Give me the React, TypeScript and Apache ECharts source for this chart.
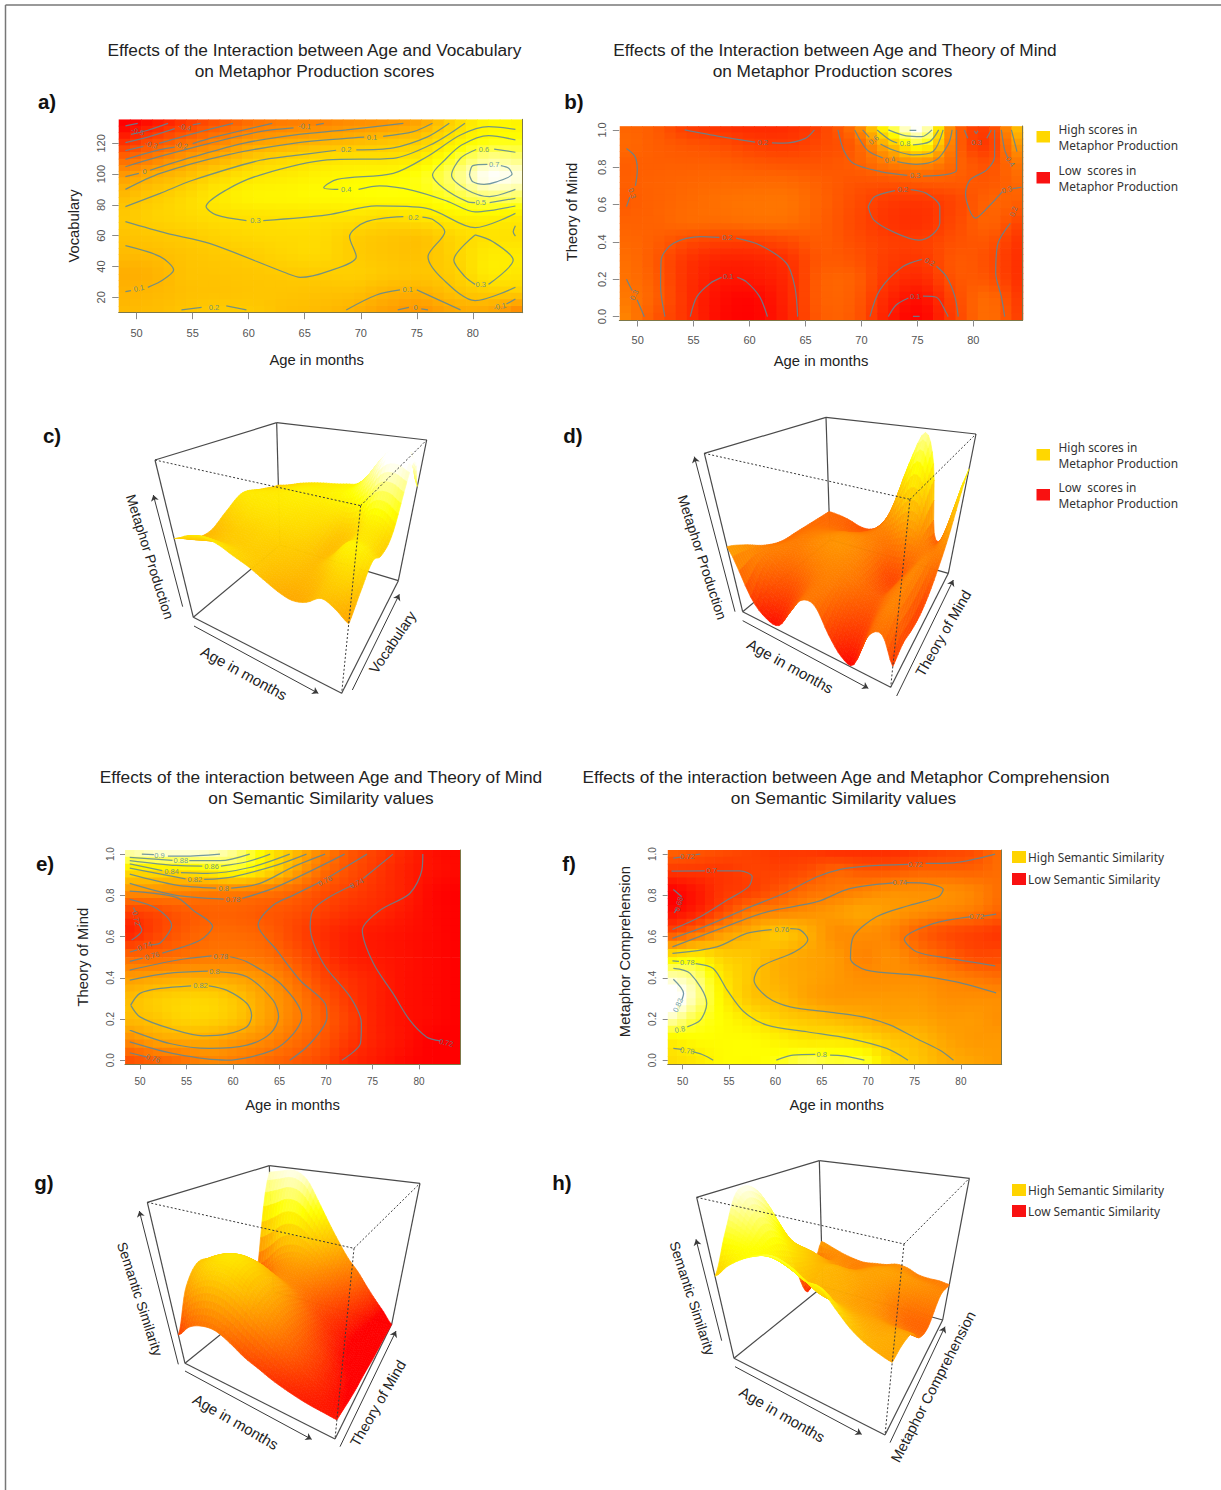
import React, { useEffect, useRef } from "react";
import * as echarts from "echarts";

type Pt = [number, number] | null;
type Contour = { level: string; pts: Pt[]; at?: [number, number]; rot?: number };

// ---------- shared axes ----------
const ageNodes = [48.4, 51.4, 54.4, 57.4, 60.4, 63.4, 66.4, 69.4, 72.4, 75.4, 78.4, 81.4, 84.4];
const unitNodes = [1.02, 0.92, 0.82, 0.72, 0.62, 0.5, 0.4, 0.3, 0.2, 0.1, -0.02];
const vocabNodes = [135.6, 123, 110, 98, 85, 73, 60, 48, 35, 23, 10];
const ageTicks = [50, 55, 60, 65, 70, 75, 80];
const vocabTicks = [20, 40, 60, 80, 100, 120];
const unitTicks = [0, 0.2, 0.4, 0.6, 0.8, 1];

// ---------- panel a: Age x Vocabulary -> Metaphor Production ----------
const heatA = [
  [-0.65, -0.55, -0.4, -0.28, -0.17, -0.12, -0.1, -0.05, -0.02, 0.05, 0.24, 0.38, 0.36],
  [-0.47, -0.33, -0.2, -0.1, 0, 0.04, 0.08, 0.11, 0.15, 0.2, 0.33, 0.41, 0.42],
  [-0.2, -0.1, 0.02, 0.1, 0.2, 0.25, 0.28, 0.3, 0.3, 0.34, 0.47, 0.6, 0.57],
  [0.02, 0.1, 0.17, 0.26, 0.32, 0.34, 0.37, 0.39, 0.4, 0.44, 0.57, 0.74, 0.7],
  [0.14, 0.2, 0.26, 0.33, 0.37, 0.38, 0.39, 0.4, 0.41, 0.41, 0.48, 0.56, 0.53],
  [0.19, 0.23, 0.26, 0.29, 0.3, 0.31, 0.31, 0.31, 0.29, 0.32, 0.36, 0.37, 0.34],
  [0.17, 0.19, 0.21, 0.24, 0.26, 0.27, 0.27, 0.22, 0.19, 0.18, 0.26, 0.3, 0.29],
  [0.14, 0.15, 0.18, 0.2, 0.22, 0.25, 0.26, 0.21, 0.18, 0.17, 0.24, 0.33, 0.33],
  [0.09, 0.11, 0.17, 0.18, 0.19, 0.2, 0.21, 0.22, 0.19, 0.18, 0.22, 0.33, 0.31],
  [0.11, 0.13, 0.16, 0.17, 0.18, 0.18, 0.17, 0.16, 0.11, 0.1, 0.17, 0.21, 0.21],
  [0.14, 0.15, 0.18, 0.21, 0.2, 0.16, 0.14, 0.1, 0.03, -0.01, 0.06, 0.06, -0.08],
];
const contoursA: Contour[] = [
  { level: "", pts: [[49, 131.3], [50.1, 133]] },
  { level: "-0.5", pts: [[49.5, 125.8], [51, 128.5], [52.8, 133]], at: [50.1, 127.6], rot: 15 },
  { level: "-0.4", pts: [[49, 120.4], [51, 124], [53.4, 129.5], null, [55, 132], [55.7, 133]], at: [54.3, 130.4], rot: 12 },
  { level: "-0.3", pts: [[49, 115.2], [50.6, 118], null, [52, 120], [55.7, 127.6], [58.6, 133]], at: [51.3, 119], rot: 15 },
  { level: "-0.2", pts: [[49, 109.6], [52, 115.7], [53.4, 117.5], null, [55, 119.8], [57.1, 124.3], [62.1, 133]], at: [54, 118.5], rot: 12 },
  { level: "-0.1", pts: [[49, 104.8], [52, 111.3], [56.5, 120], [61, 127.6], [64, 130], null, [66, 132], [66.7, 133]], at: [65, 131], rot: 5 },
  { level: "0", pts: [[49, 98.4], [50.2, 100.5], null, [51.2, 102.5], [55.1, 111.3], [59.5, 120], [64, 125.4], [68.7, 128.7], [73.8, 133]], at: [50.7, 101.6], rot: 0 },
  { level: "0.1", pts: [[49, 90.1], [52.1, 100.5], [58, 112.4], [64, 120], [68.7, 123.2], [70.3, 124], null, [72, 124.5], [74.7, 127.6], [76.4, 133]], at: [71, 124], rot: 0 },
  { level: "0.2", pts: [[49, 78.9], [52.1, 87.5], [55, 96], [61, 109], [64, 112], [67.8, 115.5], null, [69.6, 115.7], [72.9, 117], [75.9, 124], [77.9, 133]], at: [68.7, 115.7], rot: 0 },
  { level: "0.3", pts: [[79.3, 133], [76.5, 120], [72.9, 110.3], [67, 109.2], [61, 99.4], [58, 89.7], [56.2, 78.9], [57.1, 73.5], [59.8, 69.8], null, [61.3, 69.8], [67, 73.5], [71.4, 79.3], [75.9, 77.8], [80.2, 65.2], [83.8, 74.5]], at: [60.6, 70], rot: 0 },
  { level: "0.4", pts: [[83.8, 129.1], [81.4, 130.8], [78.9, 125.4], [75.9, 111.3], [72.9, 100.5], [67.9, 96.6], [66.7, 91.2], [68, 90.1], null, [69.8, 90.1], [71.7, 92.3], [74.7, 89.3], [77.7, 82.5], [80.2, 75.5], [83.8, 79.3]], at: [68.7, 90.1], rot: 0 },
  { level: "0.5", pts: [[83.8, 122.2], [81.4, 125], [79, 118.9], [77.5, 109.2], [76.4, 99.4], [77.4, 90.8], [79.5, 82.1], [80.2, 81.5], null, [81.5, 81.5], [83.8, 84.3]], at: [80.7, 81.3], rot: 0 },
  { level: "0.6", pts: [[83.8, 114.2], [81.9, 116.3], null, [80.3, 116], [78.9, 110.3], [78.1, 99.4], [79.5, 89.7], [81.5, 85.4], [83.8, 90.1]], at: [81, 115.8], rot: 0 },
  { level: "0.7", pts: [[79.7, 99.4], [80, 105.5], [81.3, 106.4], null, [82.5, 105.5], [83.2, 103.8], [83.5, 100], [82.1, 95], [81, 93.4], [80, 95], [79.7, 99.4]], at: [81.9, 106], rot: 0 },
  { level: "0.2", pts: [[49, 69.1], [52.7, 61.5], [56.5, 55], [63.4, 35.6], [64.6, 33], [67, 36.7], [69.6, 46.4], [69, 59.4], [70.5, 69.1], [73.8, 72.4], null, [75.5, 72], [76.5, 70.2], [77.5, 62.6], [76, 46.4], [77.4, 31.3], [80.2, 17.8], [83.8, 26.5]], at: [74.7, 72], rot: 0 },
  { level: "0.1", pts: [[49, 53.5], [52.1, 46.4], [53.3, 37.7], [52.1, 30.2], [51, 26.5], null, [49.5, 24.3], [49, 23.7]], at: [50.2, 25.8], rot: -12 },
  { level: "0.3", pts: [[80.2, 60.5], [78.3, 44.2], [79.3, 33.4], [80.2, 28.4], null, [81.4, 28.4], [83.6, 44.2], [81.8, 56.1], [80.2, 60.5]], at: [80.7, 28.4], rot: 0 },
  { level: "0.2", pts: [[54, 11.8], [55.8, 13.5], null, [58, 14.4], [59.8, 11.8]], at: [56.9, 13.7], rot: 0 },
  { level: "0.1", pts: [[68.7, 11.8], [71.4, 21.5], [73.5, 24.8], null, [75, 24.8], [78.9, 11.8]], at: [74.2, 24.8], rot: 0 },
  { level: "0", pts: [[73.3, 11.8], [74.3, 13.5], null, [75.4, 12.5], [76, 11.8]], at: [74.9, 13.5], rot: 0 },
  { level: "-0.1", pts: [[83, 15.6], [83.8, 18.9]], at: [82.4, 14], rot: -12 },
  { level: "", pts: [[83.8, 66.5], [83.6, 62.6], [83.8, 59.8]] },
];

// ---------- panel b: Age x Theory of Mind -> Metaphor Production ----------
const heatB = [
  [0.32, 0.29, 0.2, 0.17, 0.15, 0.16, 0.22, 0.38, 0.8, 1.0, 0.35, 0.22, 0.62],
  [0.33, 0.3, 0.27, 0.25, 0.21, 0.2, 0.24, 0.3, 0.55, 0.78, 0.33, 0.2, 0.5],
  [0.3, 0.3, 0.3, 0.3, 0.28, 0.27, 0.27, 0.3, 0.38, 0.43, 0.32, 0.26, 0.38],
  [0.3, 0.31, 0.32, 0.33, 0.33, 0.33, 0.3, 0.27, 0.27, 0.29, 0.29, 0.28, 0.33],
  [0.29, 0.31, 0.33, 0.35, 0.36, 0.36, 0.31, 0.25, 0.2, 0.19, 0.23, 0.31, 0.3],
  [0.31, 0.31, 0.33, 0.33, 0.34, 0.34, 0.3, 0.24, 0.18, 0.17, 0.24, 0.31, 0.22],
  [0.33, 0.3, 0.24, 0.21, 0.21, 0.24, 0.29, 0.25, 0.21, 0.21, 0.26, 0.27, 0.17],
  [0.35, 0.29, 0.18, 0.13, 0.13, 0.17, 0.28, 0.27, 0.2, 0.19, 0.28, 0.25, 0.16],
  [0.36, 0.3, 0.17, 0.1, 0.1, 0.15, 0.3, 0.3, 0.18, 0.15, 0.27, 0.27, 0.16],
  [0.38, 0.31, 0.17, 0.07, 0.05, 0.14, 0.3, 0.29, 0.14, 0.08, 0.24, 0.33, 0.18],
  [0.42, 0.28, 0.17, 0.06, 0.04, 0.13, 0.29, 0.28, 0.11, 0.04, 0.22, 0.34, 0.2],
];
const contoursB: Contour[] = [
  { level: "0.3", pts: [[49, 0.9], [49.76, 0.857], [49.97, 0.786], [49.8, 0.7], null, [49.3, 0.64], [49, 0.589]], at: [49.5, 0.66], rot: 70 },
  { level: "0.3", pts: [[49, 0.2], [49.5, 0.14], null, [49.95, 0.09], [50.6, 0]], at: [49.7, 0.116], rot: -65 },
  { level: "0.2", pts: [[54.2, 1], [57.4, 0.964], [60.5, 0.935], null, [62, 0.93], [63, 0.929], [65, 0.955], [65.8, 1]], at: [61.2, 0.932], rot: 0 },
  { level: "0.2", pts: [[52.44, 0], [52.05, 0.16], [52.1, 0.304], [53.2, 0.393], [55.6, 0.429], [57.3, 0.425], null, [58.8, 0.42], [60.9, 0.384], [63.3, 0.286], [64.05, 0.16], [64.3, 0]], at: [58, 0.423], rot: 0 },
  { level: "0.1", pts: [[54.7, 0], [55.3, 0.107], [56.5, 0.179], [57.5, 0.21], null, [58.9, 0.21], [59.7, 0.1875], [60.9, 0.107], [61.6, 0]], at: [58.1, 0.214], rot: 0 },
  { level: "0.2", pts: [[70.6, 0.589], [71.2, 0.643], [73, 0.675], null, [74.4, 0.68], [75.8, 0.66], [77, 0.589], [77, 0.5], [76.3, 0.4375], [75.1, 0.41], [72.8, 0.455], [71.1, 0.518], [70.6, 0.589]], at: [73.7, 0.679], rot: 0 },
  { level: "0.2", pts: [[70.76, 0], [71.65, 0.143], [73.7, 0.268], [75.4, 0.307], null, [76.7, 0.27], [77.6, 0.214], [78.35, 0.107], [78.65, 0]], at: [76.1, 0.293], rot: 25 },
  { level: "0.1", pts: [[72.4, 0], [73.1, 0.0625], [74.2, 0.1], null, [75.5, 0.11], [76.7, 0.104], [77.6, 0.018], [77.75, 0]], at: [74.8, 0.107], rot: 0 },
  { level: "", pts: [[74.6, 0.002], [75.2, 0.002]] },
  { level: "0.3", pts: [[67.9, 1], [68.4, 0.893], [69.3, 0.82], [71.7, 0.777], [74.1, 0.757], null, [75.5, 0.753], [77.3, 0.759], [78.5, 0.786], [78.5, 1]], at: [74.8, 0.755], rot: 0 },
  { level: "0.4", pts: [[69.4, 1], [70.5, 0.893], [71.9, 0.85], null, [73.2, 0.83], [74.9, 0.816], [76.7, 0.84], [77.8, 0.929], [78.1, 1]], at: [72.55, 0.84], rot: -10 },
  { level: "0.6", pts: [[70.1, 1], [70.7, 0.96], null, [71.7, 0.925], [72.8, 0.893], [74.6, 0.866], [76.4, 0.884], [77.3, 1]], at: [71.1, 0.946], rot: -40 },
  { level: "0.8", pts: [[71.4, 1], [72.55, 0.946], [73.2, 0.93], null, [74.6, 0.92], [76.1, 0.9375], [76.9, 1]], at: [73.9, 0.928], rot: 0 },
  { level: "", pts: [[72.4, 1], [74, 0.968], [75.4, 0.964], [76.3, 1]] },
  { level: "", pts: [[74.3, 0.997], [74.9, 0.997]] },
  { level: "0.3", pts: [[79.2, 1], [79.5, 0.955], null, [81.2, 0.955], [81.6, 1]], at: [80.3, 0.935], rot: 0 },
  { level: "", pts: [[80.1, 0.995], [80.25, 0.98], [80.4, 0.995]] },
  { level: "0.3", pts: [[81.9, 1], [81.9, 0.857], [81.2, 0.786], [79.7, 0.732], [79.3, 0.66], [80.2, 0.527], [81.5, 0.598], [82.6, 0.67], null, [83.5, 0.685], [84.3, 0.693]], at: [83, 0.679], rot: -15 },
  { level: "0.4", pts: [[82.5, 1], [82.8, 0.893], [83.1, 0.85], null, [83.8, 0.79]], at: [83.3, 0.83], rot: 55 },
  { level: "", pts: [[83.4, 1], [83.9, 0.884]] },
  { level: "0.2", pts: [[83.3, 0.5], [82.2, 0.393], [82, 0.232], [82.5, 0.107], [82.8, 0]], at: [83.6, 0.5625], rot: -70 },
];

// ---------- panel e: Age x Theory of Mind -> Semantic Similarity ----------
const heatE = [
  [0.895, 0.905, 0.908, 0.903, 0.885, 0.85, 0.82, 0.785, 0.755, 0.74, 0.725, 0.71, 0.705],
  [0.84, 0.84, 0.84, 0.85, 0.86, 0.84, 0.805, 0.77, 0.75, 0.735, 0.72, 0.71, 0.705],
  [0.79, 0.79, 0.785, 0.78, 0.78, 0.775, 0.765, 0.75, 0.74, 0.73, 0.72, 0.705, 0.7],
  [0.74, 0.745, 0.755, 0.76, 0.76, 0.755, 0.75, 0.74, 0.73, 0.725, 0.715, 0.705, 0.7],
  [0.72, 0.74, 0.755, 0.765, 0.765, 0.76, 0.745, 0.73, 0.72, 0.715, 0.71, 0.705, 0.7],
  [0.765, 0.765, 0.77, 0.775, 0.775, 0.77, 0.755, 0.735, 0.72, 0.715, 0.71, 0.705, 0.7],
  [0.795, 0.8, 0.805, 0.805, 0.8, 0.79, 0.77, 0.745, 0.73, 0.72, 0.71, 0.705, 0.7],
  [0.815, 0.825, 0.83, 0.83, 0.82, 0.8, 0.78, 0.755, 0.735, 0.72, 0.71, 0.705, 0.7],
  [0.815, 0.82, 0.83, 0.83, 0.82, 0.8, 0.78, 0.76, 0.74, 0.72, 0.71, 0.705, 0.7],
  [0.785, 0.8, 0.805, 0.805, 0.795, 0.785, 0.77, 0.755, 0.735, 0.72, 0.71, 0.7, 0.7],
  [0.745, 0.755, 0.765, 0.78, 0.775, 0.765, 0.755, 0.745, 0.725, 0.715, 0.705, 0.7, 0.7],
];
const contoursE: Contour[] = [
  { level: "0.9", pts: [[50.2, 1], [51.5, 0.997], null, [53, 0.99], [54.7, 0.99], [58.6, 1]], at: [52.1, 0.995], rot: 0 },
  { level: "0.88", pts: [[48.9, 0.984], [53.5, 0.97], null, [55.3, 0.968], [58.6, 0.968], [61.8, 1]], at: [54.4, 0.968], rot: 0 },
  { level: "0.86", pts: [[48.9, 0.969], [53.9, 0.945], [56.7, 0.942], null, [58.7, 0.942], [61.5, 0.963], [64, 1]], at: [57.7, 0.942], rot: 0 },
  { level: "0.84", pts: [[48.9, 0.953], [52.4, 0.92], null, [54.4, 0.91], [57.2, 0.906], [61.8, 0.935], [66.1, 1]], at: [53.4, 0.914], rot: 0 },
  { level: "0.82", pts: [[48.9, 0.932], [54.9, 0.88], null, [56.9, 0.877], [60, 0.89], [64.7, 0.947], [67.9, 1]], at: [55.9, 0.877], rot: 0 },
  { level: "0.8", pts: [[48.9, 0.903], [53.9, 0.85], [58.2, 0.835], null, [59.8, 0.835], [62.9, 0.858], [66.5, 0.939], [69.9, 1]], at: [59, 0.833], rot: 0 },
  { level: "0.78", pts: [[48.9, 0.858], [53.9, 0.8], [59, 0.782], null, [61, 0.785], [64.7, 0.841], [72, 1]], at: [60, 0.782], rot: 0 },
  { level: "0.76", pts: [[48.9, 0.82], [53.9, 0.79], [55.7, 0.728], [57.8, 0.65], [56.5, 0.583], [52.4, 0.52], null, [50.3, 0.495], [48.9, 0.48]], at: [51.3, 0.506], rot: -15 },
  { level: "0.74", pts: [[48.9, 0.78], [51.8, 0.736], [53.4, 0.655], [52.2, 0.57], [51.2, 0.56], null, [49.7, 0.535], [48.9, 0.525]], at: [50.5, 0.553], rot: -20 },
  { level: "0.72", pts: [[49.3, 0.741], [49.5, 0.72], null, [49.9, 0.66], [50.2, 0.631], [49.1, 0.583]], at: [49.6, 0.688], rot: 78 },
  { level: "0.78", pts: [[48.9, 0.437], [53.9, 0.485], [57.7, 0.506], null, [59.7, 0.502], [61.5, 0.477], [65.1, 0.372], [67.4, 0.21], [66.5, 0.129], [64.3, 0.049], [59.3, 0], [53.9, 0.029], [48.9, 0.089]], at: [58.7, 0.505], rot: 0 },
  { level: "0.8", pts: [[48.9, 0.388], [52.9, 0.421], [57.3, 0.432], null, [58.6, 0.429], [61.5, 0.405], [64.3, 0.291], [64.9, 0.21], [64, 0.129], [61.5, 0.073], [57.5, 0.057], [53.2, 0.081], [48.9, 0.146]], at: [58, 0.431], rot: 0 },
  { level: "0.82", pts: [[49, 0.267], [50, 0.324], [52.2, 0.348], [55.5, 0.361], null, [57.4, 0.361], [59.3, 0.34], [61.5, 0.275], [62, 0.218], [61.5, 0.162], [59.3, 0.126], [56.8, 0.118], [53.2, 0.154], [50, 0.21], [49, 0.267]], at: [56.5, 0.361], rot: 0 },
  { level: "0.76", pts: [[48.9, 0.036], [50.7, 0.016], null, [52, 0]], at: [51.4, 0.008], rot: 18 },
  { level: "0.76", pts: [[66.1, 0], [68.3, 0.081], [70.1, 0.21], [69.9, 0.275], [67.2, 0.388], [64.7, 0.534], [62.7, 0.655], [64.3, 0.752], [66.5, 0.801], [69.4, 0.866], null, [70.4, 0.89], [74.4, 1]], at: [69.9, 0.87], rot: -25 },
  { level: "0.74", pts: [[71.7, 0], [73.7, 0.081], [73.8, 0.178], [72.6, 0.307], [69.7, 0.469], [68.3, 0.647], [68.6, 0.728], [70.1, 0.785], [72.9, 0.85], null, [74, 0.882], [77.2, 1]], at: [73.3, 0.858], rot: -25 },
  { level: "0.72", pts: [[80.4, 1], [80.3, 0.922], [79, 0.809], [75.8, 0.728], [73.9, 0.631], [75.1, 0.469], [77.2, 0.324], [79, 0.194], [80.8, 0.113], [82.3, 0.094], null, [83.5, 0.078]], at: [82.9, 0.084], rot: 12 },
];

// ---------- panel f: Age x Metaphor Comprehension -> Semantic Similarity ----------
const heatF = [
  [0.72, 0.715, 0.71, 0.705, 0.7, 0.7, 0.695, 0.695, 0.695, 0.7, 0.705, 0.71, 0.725],
  [0.7, 0.7, 0.7, 0.705, 0.705, 0.71, 0.72, 0.715, 0.715, 0.72, 0.72, 0.72, 0.725],
  [0.675, 0.685, 0.7, 0.705, 0.715, 0.725, 0.73, 0.735, 0.74, 0.74, 0.74, 0.735, 0.725],
  [0.68, 0.69, 0.71, 0.73, 0.735, 0.74, 0.745, 0.75, 0.745, 0.74, 0.735, 0.73, 0.72],
  [0.71, 0.725, 0.745, 0.755, 0.765, 0.755, 0.74, 0.74, 0.735, 0.72, 0.71, 0.705, 0.7],
  [0.78, 0.785, 0.77, 0.765, 0.755, 0.75, 0.745, 0.735, 0.74, 0.73, 0.72, 0.71, 0.71],
  [0.82, 0.81, 0.78, 0.765, 0.755, 0.75, 0.745, 0.74, 0.74, 0.74, 0.735, 0.73, 0.725],
  [0.84, 0.815, 0.785, 0.765, 0.76, 0.75, 0.745, 0.745, 0.745, 0.745, 0.74, 0.74, 0.74],
  [0.82, 0.8, 0.79, 0.78, 0.77, 0.765, 0.76, 0.755, 0.75, 0.75, 0.745, 0.745, 0.74],
  [0.785, 0.79, 0.79, 0.79, 0.785, 0.78, 0.78, 0.775, 0.765, 0.76, 0.75, 0.745, 0.745],
  [0.775, 0.78, 0.79, 0.79, 0.795, 0.805, 0.8, 0.8, 0.775, 0.765, 0.755, 0.75, 0.745],
];
const contoursF: Contour[] = [
  { level: "0.72", pts: [[49, 0.981], [49.8, 0.985], null, [51.4, 0.997], [51.9, 1]], at: [50.5, 0.99], rot: 0 },
  { level: "0.7", pts: [[48.8, 0.918], [52.4, 0.919], null, [53.7, 0.919], [56.2, 0.919], [57.5, 0.89], [57.1, 0.841], [54.8, 0.777], [51.9, 0.696], [48.9, 0.634]], at: [53.1, 0.919], rot: 0 },
  { level: "0.68", pts: [[49, 0.828], [49.9, 0.793], null, [49.4, 0.736], [49.1, 0.715]], at: [49.6, 0.757], rot: -75 },
  { level: "0.72", pts: [[48.9, 0.591], [52.3, 0.647], [57.3, 0.744], [60.9, 0.809], [64.5, 0.89], [67, 0.926], [69.8, 0.942], [74.3, 0.95], null, [76.2, 0.955], [79.2, 0.958], [83.7, 1]], at: [75.1, 0.95], rot: 0 },
  { level: "0.74", pts: [[48.9, 0.55], [55.5, 0.663], [59.1, 0.72], [64.5, 0.769], [68, 0.833], [72.7, 0.861], null, [74.1, 0.862], [75.6, 0.861], [78.1, 0.828], [77.6, 0.793], [74.5, 0.752], [70.9, 0.696], [68.4, 0.599], [68.1, 0.494], [69.8, 0.437], [75.2, 0.413], [79.5, 0.38], [83.8, 0.327]], at: [73.4, 0.862], rot: 0 },
  { level: "0.76", pts: [[48.9, 0.518], [53.7, 0.55], [56.9, 0.615], [59.6, 0.634], null, [61.6, 0.638], [62.7, 0.631], [63.5, 0.586], [62.1, 0.526], [58.4, 0.453], [57.7, 0.388], [59.1, 0.307], [61.6, 0.259], [66.3, 0.231], [69.8, 0.207], [72.4, 0.17], [75.2, 0.105], [77.7, 0.049], [79.2, 0]], at: [60.7, 0.634], rot: 0 },
  { level: "0.78", pts: [[48.9, 0.482], [49.6, 0.48], null, [51.4, 0.469], [53.3, 0.445], [54.8, 0.34], [56.6, 0.235], [59.1, 0.17], [63.4, 0.138], [68, 0.105], [72, 0.057], [74.3, 0]], at: [50.5, 0.474], rot: 0 },
  { level: "0.8", pts: [[49, 0.445], [50.8, 0.421], [52.6, 0.275], [51.9, 0.194], [50.5, 0.162], null, [49.2, 0.138]], at: [49.7, 0.149], rot: -12 },
  { level: "0.82", pts: [[49, 0.393], [50.1, 0.324], [49.9, 0.291], null, [49.2, 0.235]], at: [49.5, 0.267], rot: -65 },
  { level: "0.78", pts: [[49, 0.057], [49.9, 0.052], null, [51.2, 0.04], [52.3, 0.024], [53.3, 0]], at: [50.5, 0.045], rot: 8 },
  { level: "0.8", pts: [[60.1, 0], [61.9, 0.024], [64.3, 0.028], null, [65.9, 0.024], [67.3, 0.021], [69.6, 0]], at: [65, 0.028], rot: 0 },
  { level: "0.72", pts: [[83.8, 0.709], [82.4, 0.699], null, [81, 0.696], [77, 0.663], [73.9, 0.587], [75.2, 0.526], [78.8, 0.494], [83.7, 0.458]], at: [81.7, 0.699], rot: 0 },
];

// ---------- surfaces: rows go from the front (v=0) to the back (v=1), columns by age ----------
const surfaceC = [
  [0.5, 0.55, 0.575, 0.56, 0.52, 0.485, 0.44, 0.4, 0.38, 0.4, 0.45, 0.42, 0.37],
  [0.44, 0.46, 0.48, 0.49, 0.49, 0.48, 0.46, 0.44, 0.42, 0.44, 0.5, 0.52, 0.46],
  [0.43, 0.46, 0.49, 0.5, 0.51, 0.5, 0.49, 0.47, 0.44, 0.5, 0.6, 0.6, 0.55],
  [0.5, 0.53, 0.55, 0.55, 0.55, 0.54, 0.53, 0.5, 0.44, 0.48, 0.56, 0.56, 0.5],
  [0.57, 0.58, 0.58, 0.58, 0.58, 0.57, 0.56, 0.55, 0.5, 0.52, 0.62, 0.62, 0.56],
  [0.53, 0.55, 0.57, 0.59, 0.6, 0.6, 0.61, 0.63, 0.68, 0.8, 0.95, 0.98, 0.93],
  [0.49, 0.51, 0.54, 0.56, 0.575, 0.585, 0.6, 0.62, 0.72, 0.87, 0.92, 0.9, 0.67],
];
const surfaceD = [
  [0.41, 0.13, 0.035, 0.03, 0.14, 0.25, 0.255, 0.12, 0.03, 0.02, 0.21, 0.25, 0.11],
  [0.36, 0.24, 0.16, 0.14, 0.2, 0.27, 0.28, 0.2, 0.13, 0.12, 0.25, 0.3, 0.14],
  [0.29, 0.29, 0.26, 0.27, 0.3, 0.32, 0.31, 0.27, 0.22, 0.2, 0.27, 0.3, 0.12],
  [0.245, 0.28, 0.3, 0.33, 0.35, 0.36, 0.33, 0.27, 0.19, 0.17, 0.26, 0.31, 0.125],
  [0.24, 0.27, 0.29, 0.31, 0.33, 0.33, 0.31, 0.26, 0.17, 0.17, 0.25, 0.31, 0.2],
  [0.235, 0.24, 0.24, 0.23, 0.24, 0.27, 0.3, 0.32, 0.4, 0.42, 0.3, 0.28, 0.38],
  [0.23, 0.22, 0.2, 0.17, 0.17, 0.225, 0.38, 0.73, 0.97, 0.75, 0.25, 0.27, 0.75],
];
const surfaceG = [
  [0.176, 0.26, 0.3, 0.305, 0.265, 0.215, 0.185, 0.155, 0.135, 0.12, 0.11, 0.105, 0.1],
  [0.42, 0.5, 0.55, 0.55, 0.5, 0.42, 0.35, 0.28, 0.22, 0.17, 0.13, 0.1, 0.08],
  [0.53, 0.58, 0.62, 0.62, 0.56, 0.47, 0.38, 0.29, 0.22, 0.17, 0.12, 0.09, 0.06],
  [0.43, 0.5, 0.53, 0.53, 0.48, 0.42, 0.33, 0.25, 0.18, 0.13, 0.09, 0.06, 0.05],
  [0.2, 0.28, 0.33, 0.36, 0.36, 0.33, 0.27, 0.2, 0.15, 0.11, 0.07, 0.04, 0.03],
  [0.22, 0.3, 0.4, 0.45, 0.46, 0.42, 0.35, 0.27, 0.2, 0.14, 0.09, 0.05, 0.02],
  [0.95, 0.97, 0.985, 0.93, 0.78, 0.63, 0.5, 0.39, 0.31, 0.22, 0.14, 0.07, 0.0],
];
const surfaceH = [
  [0.51, 0.6, 0.67, 0.72, 0.75, 0.72, 0.66, 0.65, 0.56, 0.48, 0.43, 0.4, 0.38],
  [0.74, 0.72, 0.68, 0.66, 0.62, 0.58, 0.52, 0.5, 0.46, 0.42, 0.4, 0.4, 0.39],
  [0.97, 0.85, 0.7, 0.56, 0.48, 0.44, 0.42, 0.4, 0.38, 0.37, 0.36, 0.36, 0.36],
  [0.9, 0.68, 0.58, 0.5, 0.44, 0.42, 0.4, 0.36, 0.34, 0.3, 0.27, 0.25, 0.24],
  [0.5, 0.48, 0.48, 0.42, 0.42, 0.4, 0.38, 0.36, 0.33, 0.27, 0.22, 0.2, 0.2],
  [0.05, 0.22, 0.33, 0.32, 0.3, 0.33, 0.36, 0.37, 0.36, 0.34, 0.32, 0.3, 0.29],
  [0.36, 0.33, 0.3, 0.28, 0.27, 0.28, 0.29, 0.31, 0.3, 0.27, 0.26, 0.26, 0.25],
];

// ---------- view settings ----------
type XY = [number, number];
type View = {
  ox: number; oy: number; bl: XY; bf: XY; br: XY; bb: XY; tl: XY; tf: XY; tr: XY; tb: XY;
  arrows: [XY, XY][]; lo: number; hi: number; gamma: number; m: number[][];
};
const views: View[] = [
  { ox: 120, oy: 410, bl: [220, 622], bf: [665, 850], br: [835, 512], bb: [480, 405], tl: [105, 150], tf: [722, 287], tr: [920, 90], tb: [470, 38],
    arrows: [[[188, 590], [100, 255]], [[222, 648], [595, 850]], [[697, 840], [838, 553]]], lo: -0.15, hi: 0.91, gamma: 1, m: surfaceC },
  { ox: 670, oy: 410, bl: [218, 605], bf: [662, 832], br: [835, 490], bb: [480, 389], tl: [103, 130], tf: [720, 268], tr: [918, 72], tb: [468, 22],
    arrows: [[[195, 605], [73, 140]], [[218, 632], [595, 835]], [[680, 858], [850, 510]]], lo: 0, hi: 1.1, gamma: 0.75, m: surfaceD },
  { ox: 110, oy: 1155, bl: [225, 625], bf: [675, 852], br: [845, 508], bb: [490, 410], tl: [112, 142], tf: [732, 280], tr: [930, 85], tb: [478, 32],
    arrows: [[[205, 628], [88, 168]], [[225, 648], [605, 853]], [[690, 875], [858, 528]]], lo: 0.08, hi: 1, gamma: 0.75, m: surfaceG },
  { ox: 660, oy: 1150, bl: [222, 625], bf: [675, 855], br: [848, 510], bb: [488, 410], tl: [110, 142], tf: [732, 282], tr: [928, 85], tb: [478, 32],
    arrows: [[[185, 572], [108, 268]], [[225, 650], [605, 853]], [[690, 878], [855, 530]]], lo: 0, hi: 1, gamma: 0.75, m: surfaceH },
];

const FONT = "Liberation Sans";
const LEGEND_FONT = "Noto Sans";

function heat(t: number): string {
  const c = Math.max(0, Math.min(1, t));
  if (c < 0.75) return `rgb(255,${Math.round((255 * c) / 0.75)},0)`;
  return `rgb(255,255,${Math.round((255 * (c - 0.75)) / 0.25)})`;
}

// Draw-time shading: a smooth read of the matrix between its read values.
function cr(a: number, b: number, c: number, d: number, t: number) {
  return 0.5 * (2 * b + (c - a) * t + (2 * a - 5 * b + 4 * c - d) * t * t + (3 * b - a - 3 * c + d) * t * t * t);
}
function shade(m: number[][], r: number, c: number) {
  const rows = m.length, cols = m[0].length;
  const r0 = Math.min(rows - 2, Math.floor(r)), c0 = Math.min(cols - 2, Math.floor(c));
  const fr = r - r0, fc = c - c0;
  const at = (i: number, j: number) => m[Math.max(0, Math.min(rows - 1, i))][Math.max(0, Math.min(cols - 1, j))];
  const row = (i: number) => cr(at(i, c0 - 1), at(i, c0), at(i, c0 + 1), at(i, c0 + 2), fc);
  return cr(row(r0 - 1), row(r0), row(r0 + 1), row(r0 + 2), fr);
}

type Panel = {
  left: number; top: number; width: number; height: number; xlim: XY; ylim: XY;
  xs: number[]; ys: number[]; m: number[][]; lo: number; hi: number; contours: Contour[];
  yTicks: number[]; yName: string; yFixed: number; fontSize: number; tickLen: number;
  xMargin: number; yMargin: number; xGap: number; yGap: number; yPad: number[]; xPad: number[];
};
const panels: Panel[] = [
  { left: 118.7, top: 119.3, width: 404, height: 193.4, xlim: [48.4, 84.45], ylim: [10, 135.6], xs: ageNodes, ys: vocabNodes, m: heatA, lo: -0.6, hi: 0.75, contours: contoursA,
    yTicks: vocabTicks, yName: "Vocabulary", yFixed: 0, fontSize: 11, tickLen: 6.5, xMargin: 14.5, yMargin: 12, xGap: 40, yGap: 37.7, yPad: [0, 20, 0, 0], xPad: [0, 8, 0, 0] },
  { left: 619.3, top: 126, width: 403.4, height: 194, xlim: [48.36, 84.41], ylim: [-0.018, 1.021], xs: ageNodes, ys: unitNodes, m: heatB, lo: 0.03, hi: 1.0, contours: contoursB,
    yTicks: unitTicks, yName: "Theory of Mind", yFixed: 1, fontSize: 11, tickLen: 6.5, xMargin: 14.5, yMargin: 12, xGap: 33, yGap: 40, yPad: [0, 0, 0, 22], xPad: [0, 0, 0, 0] },
  { left: 125, top: 850, width: 335, height: 214.3, xlim: [48.39, 84.4], ylim: [-0.02, 1.02], xs: ageNodes, ys: unitNodes, m: heatE, lo: 0.7, hi: 0.91, contours: contoursE,
    yTicks: unitTicks, yName: "Theory of Mind", yFixed: 1, fontSize: 10, tickLen: 5, xMargin: 12.5, yMargin: 10, xGap: 33, yGap: 35, yPad: [0, 0, 0, 0], xPad: [0, 0, 0, 0] },
  { left: 667.7, top: 850, width: 334, height: 214.3, xlim: [48.39, 84.4], ylim: [-0.02, 1.02], xs: ageNodes, ys: unitNodes, m: heatF, lo: 0.675, hi: 0.83, contours: contoursF,
    yTicks: unitTicks, yName: "Metaphor Comprehension", yFixed: 1, fontSize: 10, tickLen: 5, xMargin: 12.5, yMargin: 10, xGap: 33, yGap: 35, yPad: [0, 0, 0, 11], xPad: [0, 0, 0, 4] },
];

const titles: [string, number, number][] = [
  ["Effects of the Interaction between Age and Vocabulary", 314.5, 50],
  ["on Metaphor Production scores", 314.5, 71],
  ["Effects of the Interaction between Age and Theory of Mind", 835, 50],
  ["on Metaphor Production scores", 832.5, 71],
  ["Effects of the interaction between Age and Theory of Mind", 321, 777],
  ["on Semantic Similarity values", 321, 798],
  ["Effects of the interaction between Age and Metaphor Comprehension", 846, 777],
  ["on Semantic Similarity values", 843.5, 798],
];
const letters: [string, number, number][] = [
  ["a)", 47, 101], ["b)", 574, 101], ["c)", 52, 435], ["d)", 573, 435],
  ["e)", 45, 863], ["f)", 569, 863], ["g)", 44, 1182], ["h)", 562, 1182],
];
// text, centre x, centre y, clockwise angle in degrees, font size
const axisTexts: [string, number, number, number, number][] = [
  ["Metaphor Production", 150, 556.7, 72.5, 14], ["Age in months", 244, 673, 28.8, 15], ["Vocabulary", 392.7, 642.3, -56, 14.5],
  ["Metaphor Production", 702.3, 557.3, 72, 14], ["Age in months", 790.3, 666, 29, 15], ["Theory of Mind", 943.3, 633.3, -60, 14.5],
  ["Semantic Similarity", 140, 1299, 72, 14], ["Age in months", 235.7, 1421.7, 30, 15], ["Theory of Mind", 378, 1403.3, -60, 14.5],
  ["Semantic Similarity", 692.3, 1298.3, 72, 14], ["Age in months", 782.3, 1414.3, 30, 15], ["Metaphor Comprehension", 933.3, 1386.7, -62.7, 14.5],
];
const twoLineLegends: [number, string[], string][] = [
  [129, ["High scores in", "Metaphor Production"], "#FFD700"],
  [170, ["Low  scores in", "Metaphor Production"], "#F91111"],
  [447, ["High scores in", "Metaphor Production"], "#FFD700"],
  [487, ["Low  scores in", "Metaphor Production"], "#F91111"],
];
const oneLineLegends: [number, string, string][] = [
  [857, "High Semantic Similarity", "#FFD400"],
  [879, "Low Semantic Similarity", "#F91111"],
  [1190, "High Semantic Similarity", "#FFD400"],
  [1211, "Low Semantic Similarity", "#F91111"],
];

const project = (v: View, u: number, d: number, w: number): XY => {
  const lerp = (a: XY, b: XY, t: number): XY => [a[0] + (b[0] - a[0]) * t, a[1] + (b[1] - a[1]) * t];
  const bottom = lerp(lerp(v.bl, v.bf, u), lerp(v.bb, v.br, u), d);
  const top = lerp(lerp(v.tl, v.tf, u), lerp(v.tb, v.tr, u), d);
  const p = lerp(bottom, top, w);
  return [v.ox + p[0] / 3, v.oy + p[1] / 3];
};

function buildOption() {
  const series: any[] = [];
  const grid: any[] = [], xAxis: any[] = [], yAxis: any[] = [];
  const frameLine = { color: "#7d7748", width: 1 };

  panels.forEach((p, g) => {
    grid.push({ left: p.left, top: p.top, width: p.width, height: p.height });
    xAxis.push({
      gridIndex: g, type: "value", min: p.xlim[0], max: p.xlim[1], z: 5,
      name: "Age in months", nameLocation: "middle", nameGap: p.xGap,
      nameTextStyle: { fontSize: 14.8, color: "#222", fontFamily: FONT, padding: p.xPad },
      axisLine: { show: true, onZero: false, lineStyle: frameLine },
      axisTick: { show: true, length: p.tickLen, customValues: ageTicks, lineStyle: { color: "#8a8a8a" } },
      axisLabel: { customValues: ageTicks, margin: p.xMargin, fontSize: p.fontSize, color: "#555", fontFamily: FONT },
      splitLine: { show: false },
    });
    yAxis.push({
      gridIndex: g, type: "value", min: p.ylim[0], max: p.ylim[1], position: "left", z: 5,
      name: p.yName, nameLocation: "middle", nameGap: p.yGap, nameRotate: 90,
      nameTextStyle: { fontSize: 14.8, color: "#222", fontFamily: FONT, padding: p.yPad },
      axisLine: { show: false, onZero: false },
      axisTick: { show: true, length: p.tickLen, customValues: p.yTicks, lineStyle: { color: "#8a8a8a" } },
      axisLabel: {
        customValues: p.yTicks, rotate: 90, margin: p.yMargin, fontSize: p.fontSize, color: "#555", fontFamily: FONT,
        formatter: (v: number) => v.toFixed(p.yFixed),
      },
      splitLine: { show: false },
    });
    yAxis.push({
      gridIndex: g, type: "value", min: p.ylim[0], max: p.ylim[1], position: "right", z: 5,
      axisLine: { show: true, onZero: false, lineStyle: frameLine },
      axisTick: { show: false }, axisLabel: { show: false }, splitLine: { show: false },
    });

    const nx = p.xs.length, ny = p.ys.length;
    const data: number[][] = [];
    p.ys.forEach((y, j) => p.xs.forEach((x, i) => data.push([x, y, p.m[j][i]])));
    const SUB = 3;
    series.push({
      type: "custom", xAxisIndex: g, yAxisIndex: 2 * g, data, z: 1, clip: true, silent: true,
      encode: { x: 0, y: 1 },
      renderItem: (params: any, api: any) => {
        const i = params.dataIndex % nx, j = Math.floor(params.dataIndex / nx);
        if (i === nx - 1 || j === ny - 1) return null;
        const children: any[] = [];
        for (let a = 0; a < SUB; a++) for (let b = 0; b < SUB; b++) {
          const x0 = p.xs[i] + ((p.xs[i + 1] - p.xs[i]) * a) / SUB;
          const x1 = p.xs[i] + ((p.xs[i + 1] - p.xs[i]) * (a + 1)) / SUB;
          const y0 = p.ys[j] + ((p.ys[j + 1] - p.ys[j]) * b) / SUB;
          const y1 = p.ys[j] + ((p.ys[j + 1] - p.ys[j]) * (b + 1)) / SUB;
          const c0 = api.coord([x0, y0]), c1 = api.coord([x1, y1]);
          const z = shade(p.m, j + (b + 0.5) / SUB, i + (a + 0.5) / SUB);
          children.push({
            type: "rect",
            shape: { x: c0[0], y: Math.min(c0[1], c1[1]), width: c1[0] - c0[0] + 0.7, height: Math.abs(c1[1] - c0[1]) + 0.7 },
            style: { fill: heat((z - p.lo) / (p.hi - p.lo)) },
          });
        }
        return { type: "group", children };
      },
    });

    p.contours.forEach((c) => {
      series.push({
        type: "line", xAxisIndex: g, yAxisIndex: 2 * g, z: 3, silent: true, smooth: 0.3, symbol: "none", showSymbol: false,
        connectNulls: false, clip: true,
        lineStyle: { color: "#5b8799", width: 1.25, opacity: 0.85 },
        data: c.pts.map((q) => (q ? q : ["-", "-"])),
      });
    });
    series.push({
      type: "scatter", xAxisIndex: g, yAxisIndex: 2 * g, z: 4, silent: true, symbolSize: 0,
      data: p.contours.filter((c) => c.at).map((c) => ({
        value: c.at,
        label: { show: true, position: "inside", formatter: c.level, rotate: -(c.rot || 0), fontSize: 7.5, color: "#4a8599", fontFamily: FONT },
      })),
    });
  });

  // hidden scene grid for the perspective boxes
  const sceneX = 4, sceneY = 8;
  grid.push({ left: 0, top: 0, width: 1221, height: 1490 });
  xAxis.push({ gridIndex: 4, type: "value", min: 0, max: 1221, show: false });
  yAxis.push({ gridIndex: 4, type: "value", min: 0, max: 1490, inverse: true, show: false });

  views.forEach((v) => {
    const seg = (a: XY, b: XY) => [[v.ox + a[0] / 3, v.oy + a[1] / 3], [v.ox + b[0] / 3, v.oy + b[1] / 3]];
    const solids = [[v.tl, v.tb], [v.tb, v.tr], [v.tb, v.bb], [v.bl, v.bb], [v.bb, v.br], [v.tl, v.bl], [v.tr, v.br], [v.bl, v.bf], [v.bf, v.br]] as [XY, XY][];
    solids.forEach(([a, b]) => series.push({
      type: "line", xAxisIndex: sceneX, yAxisIndex: sceneY, z: 2, silent: true, symbol: "none",
      lineStyle: { color: "#4a4a4a", width: 1.2 }, data: seg(a, b),
    }));
    const dotted = [[v.tl, v.tf], [v.tf, v.tr], [v.tf, v.bf]] as [XY, XY][];
    dotted.forEach(([a, b]) => series.push({
      type: "line", xAxisIndex: sceneX, yAxisIndex: sceneY, z: 6, silent: true, symbol: "none",
      lineStyle: { color: "#3a3a3a", width: 1, type: [2, 2] }, data: seg(a, b),
    }));
    v.arrows.forEach(([a, b]) => {
      const s = seg(a, b);
      series.push({
        type: "line", xAxisIndex: sceneX, yAxisIndex: sceneY, z: 2, silent: true, symbol: "none",
        lineStyle: { opacity: 0 }, data: s,
        markLine: {
          silent: true, animation: false, symbol: ["none", "arrow"], symbolSize: 6, label: { show: false },
          lineStyle: { color: "#3a3a3a", width: 1, type: "solid" },
          data: [[{ coord: s[0] }, { coord: s[1] }]],
        },
      });
    });

    const rows = v.m.length, cols = v.m[0].length;
    const data: number[][] = [];
    for (let r = rows - 1; r >= 0; r--) for (let c = 0; c < cols; c++) data.push([c, r, v.m[r][c]]);
    const SUB_U = 4, SUB_V = 8;
    series.push({
      type: "custom", xAxisIndex: sceneX, yAxisIndex: sceneY, data, z: 3, silent: true, clip: false,
      encode: { x: 0, y: 1 },
      renderItem: (_: any, api: any) => {
        const c = api.value(0), r = api.value(1);
        if (r === 0 || c === cols - 1) return null;
        const pt = (cc: number, rr: number) => {
          const w = shade(v.m, rr, cc);
          const q = project(v, cc / (cols - 1), rr / (rows - 1), w);
          return api.coord(q);
        };
        const children: any[] = [];
        for (let b = SUB_V - 1; b >= 0; b--) for (let a = 0; a < SUB_U; a++) {
          const c0 = c + a / SUB_U, c1 = c + (a + 1) / SUB_U;
          const r0 = r - 1 + b / SUB_V, r1 = r - 1 + (b + 1) / SUB_V;
          const w = shade(v.m, (r0 + r1) / 2, (c0 + c1) / 2);
          const base = Math.max(0, (w - v.lo) / (v.hi - v.lo));
          const fill = heat(Math.pow(base, v.gamma));
          children.push({
            type: "polygon",
            shape: { points: [pt(c0, r0), pt(c1, r0), pt(c1, r1), pt(c0, r1)] },
            style: { fill, stroke: fill, lineWidth: 0.7 },
          });
        }
        return { type: "group", children };
      },
    });
  });

  const text = (s: string, x: number, y: number, font: string, fill: string, deg = 0, align = "center") => ({
    type: "text", x, y, rotation: (-deg * Math.PI) / 180, silent: true, z: 10,
    style: { text: s, font, fill, textAlign: align, textVerticalAlign: "middle" },
  });
  const graphic: any[] = [
    { type: "line", silent: true, shape: { x1: 5.5, y1: 5, x2: 1221, y2: 5 }, style: { stroke: "#777", lineWidth: 1.5 } },
    { type: "line", silent: true, shape: { x1: 5.5, y1: 5, x2: 5.5, y2: 1490 }, style: { stroke: "#777", lineWidth: 1.5 } },
  ];
  titles.forEach(([s, x, y]) => graphic.push(text(s, x, y, `17.25px "${FONT}"`, "#222")));
  letters.forEach(([s, x, y]) => graphic.push(text(s, x, y, `bold 20.5px "${FONT}"`, "#111")));
  axisTexts.forEach(([s, x, y, deg, size]) => graphic.push(text(s, x, y, `${size}px "${FONT}"`, "#222", deg)));
  twoLineLegends.forEach(([y, lines, color]) => {
    graphic.push({ type: "rect", silent: true, shape: { x: 1036.5, y: y + 2, width: 13.5, height: 11.5 }, style: { fill: color } });
    lines.forEach((l, i) => graphic.push(text(l, 1058.5, y + i * 15.7, `11.9px "${LEGEND_FONT}"`, "#333", 0, "left")));
  });
  oneLineLegends.forEach(([y, s, color]) => {
    graphic.push({ type: "rect", silent: true, shape: { x: 1012, y: y - 6, width: 14, height: 12 }, style: { fill: color } });
    graphic.push(text(s, 1028, y, `11.9px "${LEGEND_FONT}"`, "#333", 0, "left"));
  });

  return { animation: false, backgroundColor: "#fff", grid, xAxis, yAxis, series, graphic };
}

export default function App() {
  const ref = useRef<HTMLDivElement>(null);
  useEffect(() => {
    document.body.style.margin = "0";
    const chart = echarts.init(ref.current!, undefined, { renderer: "svg" });
    chart.setOption(buildOption() as any);
    return () => chart.dispose();
  }, []);
  return <div ref={ref} style={{ position: "absolute", left: 0, top: 0, width: 1221, height: 1490 }} />;
}
